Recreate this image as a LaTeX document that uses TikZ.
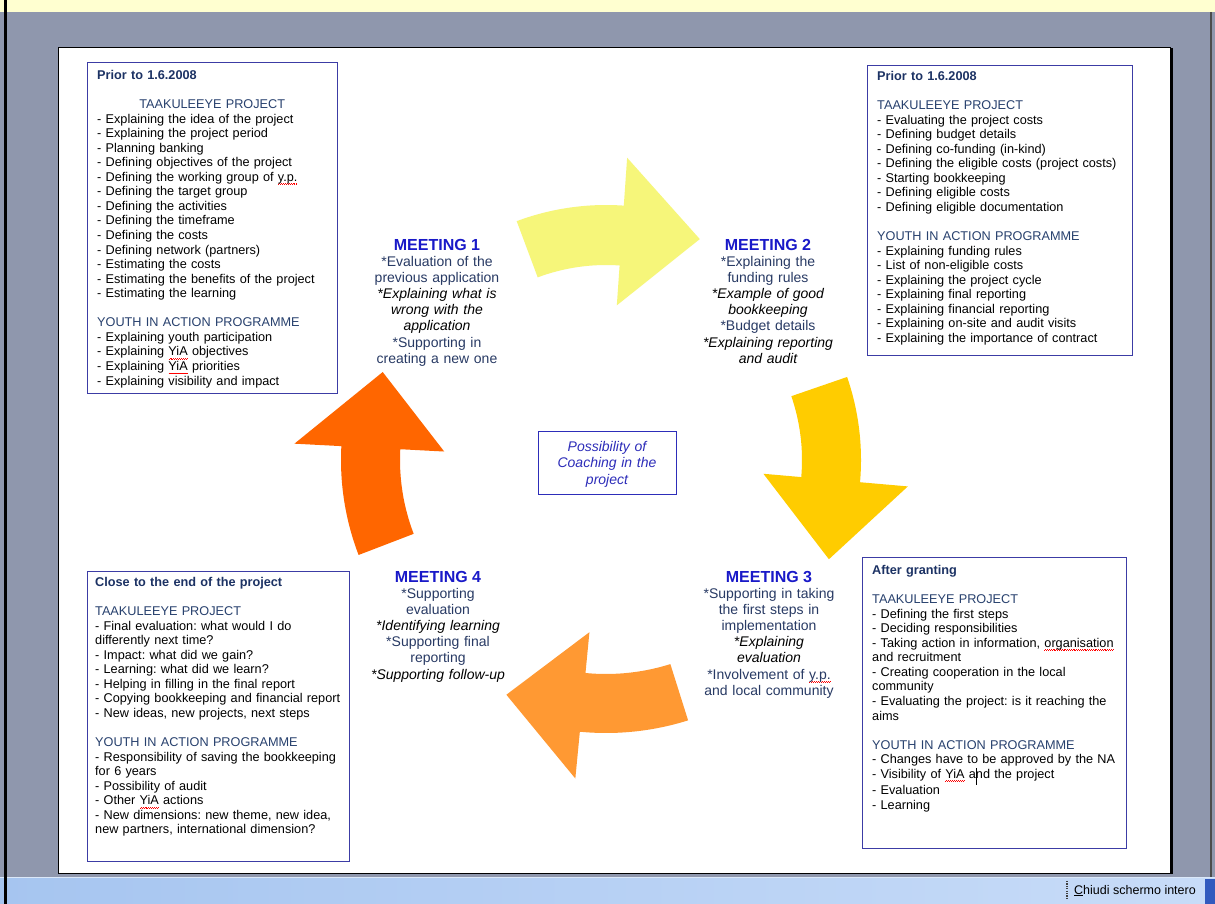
\documentclass[tikz,border=0pt]{standalone}
\usepackage{fontspec}
\setmainfont{Liberation Sans}
\usetikzlibrary{calc}
\definecolor{yellowbar}{RGB}{255,255,208}
\definecolor{framegray}{RGB}{143,151,173}
\definecolor{paleyellow}{RGB}{246,246,122}
\definecolor{gold}{RGB}{255,204,0}
\definecolor{lightorange}{RGB}{255,153,51}
\definecolor{darkorange}{RGB}{255,102,0}
\definecolor{titlenavy}{RGB}{28,50,100}
\definecolor{hdrblue}{RGB}{40,65,110}
\definecolor{meetgray}{RGB}{40,58,100}
\definecolor{meetblue}{RGB}{25,25,200}
\definecolor{boxblue}{RGB}{60,60,165}
\definecolor{coachblue}{RGB}{45,45,185}
\definecolor{taskA}{RGB}{166,197,240}
\definecolor{taskB}{RGB}{200,220,248}
\definecolor{btnblue}{RGB}{50,90,190}
\frenchspacing
% red spell-check squiggle under a word
\newcommand\spell[2][black]{\leavevmode\setbox0\hbox{\textcolor{#1}{#2}}%
  \rlap{\textcolor{red}{\hbox to \wd0{\xleaders\hbox{\rule[-3.4pt]{0.9pt}{0.6pt}\rule[-2.7pt]{0.9pt}{0.6pt}}\hfill}}}\box0\relax}
\newcommand\cursorbar{\rlap{\hspace{-0.4pt}\rule[-6.5pt]{1.8pt}{17pt}}}
% #1 colour, #2 tail angle, #3 head-base angle, #4 tip angle,
% #5 inner radius, #6 outer radius, #7 head inner, #8 head outer, #9 tip radius
\newcommand\cyclearrow[9]{%
  \fill[#1] ($(O)+(#2:#6)$) arc[start angle=#2, end angle=#3, radius=#6]
    -- ($(O)+(#3:#8)$) -- ($(O)+(#4:#9)$) -- ($(O)+(#3:#7)$) -- ($(O)+(#3:#5)$)
    arc[start angle=#3, end angle=#2, radius=#5] -- cycle;}
\begin{document}
\begin{tikzpicture}[x=1pt,y=1pt,
  boxframe/.style={draw=boxblue, line width=1.3pt, fill=white, inner sep=0pt, anchor=north west},
  boxtext/.style={anchor=base west, inner sep=0pt, text width=300pt, align=left,
    font=\fontsize{12.7}{14.55}\selectfont},
  mhead/.style={anchor=base, inner sep=0pt, text=meetblue, font=\fontsize{16}{18}\selectfont\bfseries},
  mbody/.style={anchor=base, inner sep=0pt, text width=170pt, align=center, text=meetgray,
    font=\fontsize{14}{16.2}\selectfont},
]
\useasboundingbox (0,0) rectangle (1215,-904);
% screen background
\fill[yellowbar] (0,0) rectangle (1215,-12);
\fill[framegray] (0,-12) rectangle (1215,-877);
\fill[white] (58,-47) rectangle (1170,-873);
\draw[black, line width=0.8pt] (58,-47) rectangle (1170,-873);
\fill[black] (1170,-48) rectangle (1172.5,-874);
\shade[left color=taskA, right color=taskB] (0,-877) rectangle (1215,-904);
\draw[white!60!taskA, line width=1pt] (0,-877.5) -- (1215,-877.5);
\fill[black] (3.5,0) rectangle (6.5,-904);
\draw[black!70, line width=1.2pt] (1211,-12) -- (1211,-877);
\draw[black!75, line width=1.2pt, dash pattern=on 1.2pt off 1.2pt] (1067,-881) -- (1067,-900);
\node[anchor=base west, inner sep=0pt, font=\fontsize{12.5}{14}\selectfont] (close) at (1074,-894) {\underline{C}hiudi schermo intero};
\fill[btnblue] (1205,-879) rectangle (1215,-904);

% cycle arrows
\coordinate (O) at (606,-460);
\cyclearrow{paleyellow}{110.5}{86}{67}{195}{255}{155}{303}{240}
\cyclearrow{gold}{19}{-5}{-24}{196}{255}{158}{303}{244}
\cyclearrow{lightorange}{-72.5}{-95.5}{-113}{214}{273}{173}{320}{255}
\cyclearrow{darkorange}{201}{177}{158.5}{206}{265}{162}{312}{240}

% boxes
\node[boxframe, minimum width=250, minimum height=331] (tlbox) at (87,-62) {};
\node[boxframe, minimum width=265, minimum height=290] (trbox) at (867,-65) {};
\node[boxframe, minimum width=262, minimum height=290] (blbox) at (87,-571) {};
\node[boxframe, minimum width=264, minimum height=291] (brbox) at (862,-557) {};
\node[draw=coachblue, line width=1.1pt, fill=white, minimum width=138, minimum height=63,
  anchor=north west, inner sep=0pt] (coachbox) at (538,-431) {};

\node[boxtext] (tltext) at (97,-79.5) {%
\textbf{\color{titlenavy}Prior to 1.6.2008}\\[\baselineskip]
{\color{hdrblue}\makebox[230pt][c]{TAAKULEEYE PROJECT}}\\
- Explaining the idea of the project\\
- Explaining the project period\\
- Planning banking\\
- Defining objectives of the project\\
- Defining the working group of \spell{y.p.}\\
- Defining the target group\\
- Defining the activities\\
- Defining the timeframe\\
- Defining the costs\\
- Defining network (partners)\\
- Estimating the costs\\
- Estimating the benefits of the project\\
- Estimating the learning\\[\baselineskip]
{\color{hdrblue}YOUTH IN ACTION PROGRAMME}\\
- Explaining youth participation\\
- Explaining \spell{YiA} objectives\\
- Explaining \spell{YiA} priorities\\
- Explaining visibility and impact};

\node[boxtext] (trtext) at (877,-80.5) {%
\textbf{\color{titlenavy}Prior to 1.6.2008}\\[\baselineskip]
{\color{hdrblue}TAAKULEEYE PROJECT}\\
- Evaluating the project costs\\
- Defining budget details\\
- Defining co-funding (in-kind)\\
- Defining the eligible costs (project costs)\\
- Starting bookkeeping\\
- Defining eligible costs\\
- Defining eligible documentation\\[\baselineskip]
{\color{hdrblue}YOUTH IN ACTION PROGRAMME}\\
- Explaining funding rules\\
- List of non-eligible costs\\
- Explaining the project cycle\\
- Explaining final reporting\\
- Explaining financial reporting\\
- Explaining on-site and audit visits\\
- Explaining the importance of contract};

\node[boxtext] (bltext) at (95,-586.5) {%
\textbf{\color{titlenavy}Close to the end of the project}\\[\baselineskip]
{\color{hdrblue}TAAKULEEYE PROJECT}\\
- Final evaluation: what would I do\\
differently next time?\\
- Impact: what did we gain?\\
- Learning: what did we learn?\\
- Helping in filling in the final report\\
- Copying bookkeeping and financial report\\
- New ideas, new projects, next steps\\[\baselineskip]
{\color{hdrblue}YOUTH IN ACTION PROGRAMME}\\
- Responsibility of saving the bookkeeping\\
for 6 years\\
- Possibility of audit\\
- Other \spell{YiA} actions\\
- New dimensions: new theme, new idea,\\
new partners, international dimension?};

\node[boxtext] (brtext) at (872,-574.5) {%
\textbf{\color{titlenavy}After granting}\\[\baselineskip]
{\color{hdrblue}TAAKULEEYE PROJECT}\\
- Defining the first steps\\
- Deciding responsibilities\\
- Taking action in information, \spell{organisation}\\
and recruitment\\
- Creating cooperation in the local\\
community\\
- Evaluating the project: is it reaching the\\
aims\\[\baselineskip]
{\color{hdrblue}YOUTH IN ACTION PROGRAMME}\\
- Changes have to be approved by the NA\\
- Visibility of \spell{YiA} a\cursorbar nd the project\\
- Evaluation\\
- Learning};

% meetings
\node[mhead] (m1h) at (437,-250.7) {MEETING 1};
\node[mbody] (m1) at (437,-266) {*Evaluation of the\\previous application\\{\itshape\color{black}*Explaining what is\\wrong with the\\application}\\{}*Supporting in\\creating a new one};
\node[mhead] (m2h) at (768,-250.7) {MEETING 2};
\node[mbody] (m2) at (768,-266) {*Explaining the\\funding rules\\{\itshape\color{black}*Example of good\\bookkeeping}\\{}*Budget details\\{\itshape\color{black}*Explaining reporting\\and audit}};
\node[mhead] (m3h) at (769,-582.5) {MEETING 3};
\node[mbody] (m3) at (769,-598) {*Supporting in taking\\the first steps in\\implementation\\{\itshape\color{black}*Explaining\\evaluation}\\{}*Involvement of \spell[meetgray]{y.p.}\\and local community};
\node[mhead] (m4h) at (438,-582.5) {MEETING 4};
\node[mbody] (m4) at (438,-598) {*Supporting\\evaluation\\{\itshape\color{black}*Identifying learning}\\{}*Supporting final\\reporting\\{\itshape\color{black}*Supporting follow-up}};

\node[anchor=base, inner sep=0pt, text width=130pt, align=center, text=coachblue,
  font=\fontsize{14}{16.3}\selectfont\itshape] (coacht) at (607,-451.5) {Possibility of\\Coaching in the\\project};
\end{tikzpicture}
\end{document}
